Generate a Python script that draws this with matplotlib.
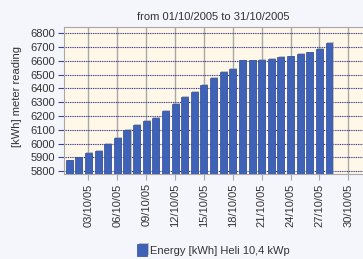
import matplotlib
matplotlib.use('Agg')
import matplotlib.pyplot as plt
import matplotlib.patheffects as pe

plt.rcParams['font.family'] = ['Liberation Sans', 'DejaVu Sans']
plt.rcParams['font.size'] = 8

# meter reading per day in October 2005
days = list(range(1, 29))
readings = [5879, 5900, 5933, 5948, 6001, 6041, 6101, 6134, 6166, 6187,
            6240, 6287, 6340, 6378, 6426, 6479, 6518, 6541, 6603, 6603,
            6610, 6617, 6626, 6633, 6648, 6662, 6686, 6732]

tick_days = [3, 6, 9, 12, 15, 18, 21, 24, 27, 30]
tick_labels = ['03/10/05', '06/10/05', '09/10/05', '12/10/05', '15/10/05',
               '18/10/05', '21/10/05', '24/10/05', '27/10/05', '30/10/05']
y_ticks = [5800, 5900, 6000, 6100, 6200, 6300, 6400, 6500, 6600, 6700, 6800]

text_col = '#333333'
fig = plt.figure(figsize=(3.63, 2.59), dpi=100, facecolor='#f5f5fc')
ax = fig.add_axes([0.1755, 0.327, 0.8245, 0.570])
ax.set_facecolor('#fff8e8')

bars = ax.bar(days, readings, width=0.72, color='#3d62b8', edgecolor='#2d4a94',
              linewidth=0.5, zorder=3, label='Energy [kWh] Heli 10,4 kWp')
for b in bars:
    b.set_path_effects([pe.SimplePatchShadow(offset=(0.8, 0.6), shadow_rgbFace='#9a9aa8', alpha=0.6),
                        pe.Normal()])

ax.set_xlim(0.43, 31.53)
ax.set_ylim(5778, 6848)
ax.set_xticks(tick_days)
ax.set_xticklabels(tick_labels, rotation=90, color=text_col)
ax.set_yticks(y_ticks)
ax.set_yticklabels([str(v) for v in y_ticks], color=text_col)

ax.grid(axis='y', color='#1a1a80', linestyle=(0, (0.8, 0.8)), linewidth=0.8, zorder=1)
ax.grid(axis='x', color='#a8a8a8', linestyle='-', linewidth=1.0, zorder=1)
ax.tick_params(axis='y', length=4, color='#4040a0', pad=2)
ax.tick_params(axis='x', length=4.5, color='#a8a8a8', pad=2)

for s in ['left', 'top', 'bottom']:
    ax.spines[s].set_color('#a8a8a8')
ax.spines['right'].set_visible(False)

ax.set_title('from 01/10/2005 to 31/10/2005', color=text_col, pad=5, fontsize=8)
ax.set_ylabel('[kWh] meter reading', color=text_col)
ax.yaxis.set_label_coords(-0.14, 0.53)

fig.legend(handles=[bars], loc='center', bbox_to_anchor=(0.588, 0.035), frameon=False,
           handlelength=0.9, handleheight=1.2, handletextpad=0.2, labelcolor=text_col)

fig.savefig('out.png', dpi=100, facecolor=fig.get_facecolor())
